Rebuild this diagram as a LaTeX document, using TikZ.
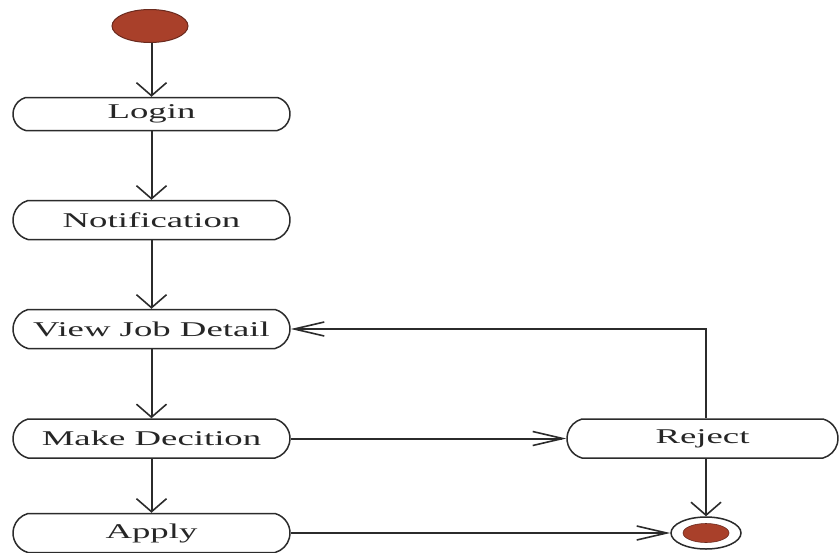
\documentclass[tikz,border=0pt]{standalone}
\usepackage{fontspec}
\usepackage{graphicx}
\setmainfont{Liberation Serif}
\usetikzlibrary{arrows.meta,shapes.geometric,shapes.misc}

\definecolor{inkline}{HTML}{2B2B2B}
\definecolor{inktext}{HTML}{262626}
\definecolor{tokenred}{HTML}{A9402A}
\definecolor{tokenedge}{HTML}{6A2A1E}

% wide serif labels
\newcommand{\widelabel}[1]{\scalebox{1.75}[1]{\fontsize{21}{24}\selectfont #1}}

\tikzset{
  activity/.style={rounded rectangle, rounded rectangle arc length=150,
    draw=inkline, line width=1.5pt, fill=white, text=inktext,
    minimum width=277pt, minimum height=39pt, inner sep=0pt},
  vflow/.style={draw=inkline, line width=2pt,
    -{Straight Barb[length=13pt,width=30pt,line width=1.6pt]}},
  hflow/.style={draw=inkline, line width=2pt,
    -{Straight Barb[length=30pt,width=14pt,line width=1.6pt]}},
  startdot/.style={ellipse, fill=tokenred, draw=tokenedge, line width=1pt,
    minimum width=76pt, minimum height=33pt, inner sep=0pt},
  endring/.style={ellipse, fill=white, draw=inkline, line width=1.5pt,
    minimum width=70pt, minimum height=32pt, inner sep=0pt},
  enddot/.style={ellipse, fill=tokenred, draw=tokenedge, line width=0.6pt,
    minimum width=46pt, minimum height=19pt, inner sep=0pt}
}

\begin{document}
\begin{tikzpicture}[x=1pt,y=-1pt]
  \useasboundingbox (0,0) rectangle (840,552);

  % start
  \node[startdot] (start) at (150,26) {};

  % left column of activities
  \node[activity, minimum height=33pt] (login) at (151.5,114) {\widelabel{Login}};
  \node[activity] (notif) at (151.5,220) {\widelabel{Notification}};
  \node[activity] (view)  at (151.5,329) {\widelabel{View Job Detail}};
  \node[activity] (make)  at (151.5,438.5) {\widelabel{Make Decition}};
  \node[activity] (apply) at (151.5,533) {\widelabel{Apply}};

  % right branch
  \node[activity, minimum width=271pt] (reject) at (702.5,438.5) {\widelabel{Reject}};

  % final state
  \node[endring] (fin) at (706,533) {};
  \node[enddot] (findot) at (706,533) {};

  % flows
  \draw[vflow] (start.south -| login.north) -- (login.north);
  \draw[vflow] (login.south) -- (notif.north);
  \draw[vflow] (notif.south) -- (view.north);
  \draw[vflow] (view.south) -- (make.north);
  \draw[vflow] (make.south) -- (apply.north);
  \draw[hflow] (make.east) -- (reject.west);
  \draw[hflow] (apply.east) -- (fin.west);
  \draw[vflow] (reject.south -| fin.north) -- (fin.north);
  \draw[hflow] (reject.north -| fin.north) |- (view.east);
\end{tikzpicture}
\end{document}
